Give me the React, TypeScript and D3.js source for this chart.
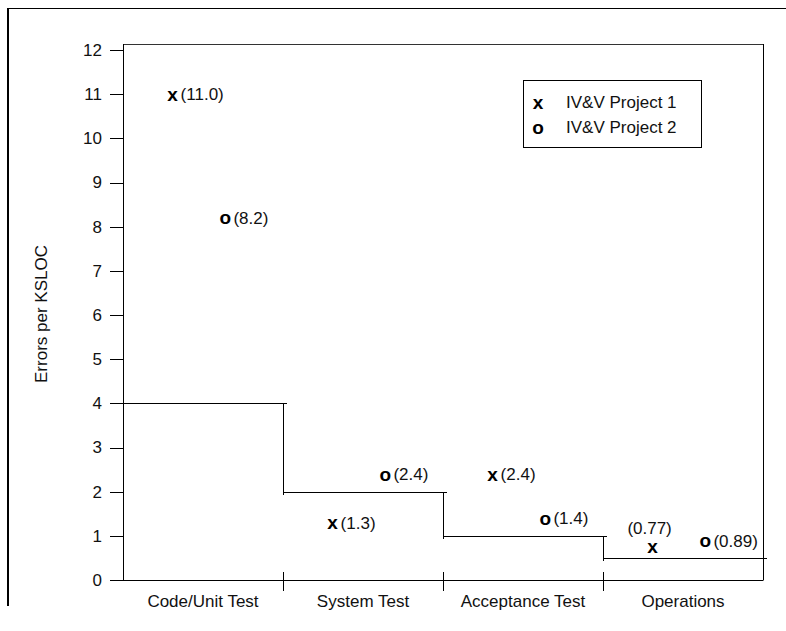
import React from "react";
import * as d3 from "d3";

const categories = ["Code/Unit Test", "System Test", "Acceptance Test", "Operations"];
const seriesNames = ["IV&V Project 1", "IV&V Project 2"];
const seriesMarkers = ["x", "o"];
const project1Values = [11.0, 1.3, 2.4, 0.77];
const project2Values = [8.2, 2.4, 1.4, 0.89];
const project1Labels = ["(11.0)", "(1.3)", "(2.4)", "(0.77)"];
const project2Labels = ["(8.2)", "(2.4)", "(1.4)", "(0.89)"];
const stepLevels = [4, 2, 1, 0.5];
const yTickValues = [0, 1, 2, 3, 4, 5, 6, 7, 8, 9, 10, 11, 12];
const yAxisTitle = "Errors per KSLOC";
const labelAboveCategory = ["Operations"]; // project 1 label shown above marker there

const W = 786;
const H = 631;
const FONT = "'Liberation Sans', Arial, sans-serif";
const FS = 17;

export default function App() {
  const left = 123, right = 763, top = 44, bottom = 580;
  const x = d3.scaleBand<string>().domain(categories).range([left, right]).paddingInner(0).paddingOuter(0);
  const y = d3.scaleLinear().domain([0, 12]).range([bottom, 50]);
  const inner = d3.scalePoint<string>().domain(seriesNames).range([0.31 * x.bandwidth(), 0.64 * x.bandwidth()]);

  const series = [
    { name: seriesNames[0], marker: seriesMarkers[0], values: project1Values, labels: project1Labels },
    { name: seriesNames[1], marker: seriesMarkers[1], values: project2Values, labels: project2Labels },
  ];

  const stepSegs: { x1: number; y1: number; x2: number; y2: number }[] = [];
  categories.forEach((c, i) => {
    const x0 = x(c)!;
    const x1 = x0 + x.bandwidth();
    const yy = y(stepLevels[i]);
    const isLast = i === categories.length - 1;
    stepSegs.push({ x1: x0, y1: yy, x2: x1 + 4, y2: yy });
    if (!isLast) {
      const yn = y(stepLevels[i + 1]);
      stepSegs.push({ x1: x1, y1: yy, x2: x1, y2: yn + 3 });
    }
  });

  return (
    <svg width={W} height={H} style={{ position: "absolute", left: 0, top: 0, background: "#fff" }} fontFamily={FONT}>
      <rect x={0} y={0} width={W} height={H} fill="#fff" />
      {/* outer frame */}
      <line x1={8} y1={8.5} x2={W} y2={8.5} stroke="#000" strokeWidth={1} />
      <line x1={8} y1={8} x2={8} y2={606} stroke="#000" strokeWidth={2} />

      {/* plot frame top and right */}
      <line x1={left} y1={top + 0.5} x2={right + 0.5} y2={top + 0.5} stroke="#333" strokeWidth={1} />
      <line x1={right + 0.5} y1={top} x2={right + 0.5} y2={bottom} stroke="#000" strokeWidth={1} />

      {/* y axis */}
      <line x1={left + 0.5} y1={top} x2={left + 0.5} y2={bottom + 0.5} stroke="#000" strokeWidth={1} />
      {yTickValues.map((t) => (
        <g key={t}>
          <line x1={110} y1={Math.round(y(t)) + 0.5} x2={left} y2={Math.round(y(t)) + 0.5} stroke="#000" strokeWidth={1} />
          <text x={102} y={y(t)} dy="0.35em" textAnchor="end" fontSize={FS} fill="#111">
            {t}
          </text>
        </g>
      ))}
      <text
        transform={`translate(41,${(top + bottom) / 2 + 2}) rotate(-90)`}
        textAnchor="middle"
        dy="0.35em"
        fontSize={FS}
        fill="#111"
      >
        {yAxisTitle}
      </text>

      {/* x axis */}
      <line x1={left} y1={bottom + 0.5} x2={right + 0.5} y2={bottom + 0.5} stroke="#000" strokeWidth={1} />
      {categories.slice(1).map((c) => (
        <line key={c} x1={x(c)! + 0.5} y1={572} x2={x(c)! + 0.5} y2={591} stroke="#000" strokeWidth={1} />
      ))}
      {categories.map((c) => (
        <text key={c} x={x(c)! + x.bandwidth() / 2} y={601} dy="0.35em" textAnchor="middle" fontSize={FS} fill="#111">
          {c}
        </text>
      ))}

      {/* step line */}
      {stepSegs.map((s, i) => (
        <line
          key={i}
          x1={s.x1 + (s.x1 === s.x2 ? 0.5 : 0)}
          y1={Math.round(s.y1) + (s.y1 === s.y2 ? 0.5 : 0)}
          x2={s.x2 + (s.x1 === s.x2 ? 0.5 : 0)}
          y2={Math.round(s.y2) + (s.y1 === s.y2 ? 0.5 : 0)}
          stroke="#000"
          strokeWidth={1}
        />
      ))}

      {/* points */}
      {series.map((s) =>
        categories.map((c, i) => {
          const cx = x(c)! + inner(s.name)!;
          const cy = y(s.values[i]);
          const above = s.name === seriesNames[0] && labelAboveCategory.includes(c);
          return (
            <g key={s.name + c}>
              <text x={cx} y={cy} dy="0.35em" textAnchor="middle" fontSize={FS + 2} fontWeight="bold" fill="#000">
                {s.marker}
              </text>
              {above ? (
                <text x={cx - 3} y={cy - 18} dy="0.35em" textAnchor="middle" fontSize={FS} fill="#111">
                  {s.labels[i]}
                </text>
              ) : (
                <text x={cx + 8} y={cy} dy="0.35em" textAnchor="start" fontSize={FS} fill="#111">
                  {s.labels[i]}
                </text>
              )}
            </g>
          );
        })
      )}

      {/* legend */}
      <rect x={523.5} y={80.5} width={178} height={67} fill="#fff" stroke="#000" strokeWidth={1} />
      {series.map((s, i) => (
        <g key={s.name} transform={`translate(0,${102 + i * 25})`}>
          <text x={538} y={0} dy="0.35em" textAnchor="middle" fontSize={FS + 2} fontWeight="bold" fill="#000">
            {s.marker}
          </text>
          <text x={566} y={0} dy="0.35em" fontSize={FS} fill="#111">
            {s.name}
          </text>
        </g>
      ))}
    </svg>
  );
}
